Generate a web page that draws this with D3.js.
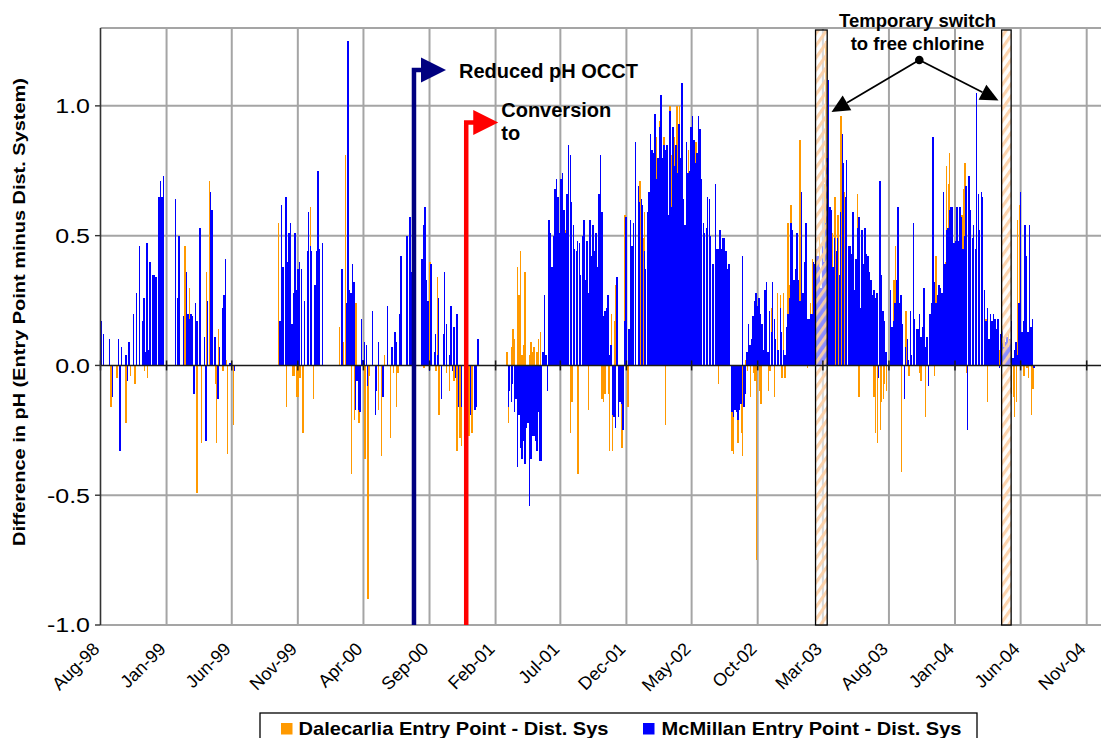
<!DOCTYPE html>
<html>
<head>
<meta charset="utf-8">
<script src="https://cdn.jsdelivr.net/npm/d3@7"></script>
<style>
  html, body { margin: 0; padding: 0; background: #fff; }
  svg { display: block; font-family: "Liberation Sans", Arial, Helvetica, sans-serif; }
</style>
</head>
<body>
<svg id="chart" width="1101" height="738"></svg>
<script>
// pH difference (entry point minus distribution system), sampled on a
// twice-weekly grid (every 3.5 days) starting 2 Aug 1998; _ = no sample.
const _ = null;

const dalecarlia = [
  _,_,_,_,_,_,_,-.16,_,_,
  _,-.05,_,_,_,_,_,-.22,-.03,_,
  -.04,_,_,-.07,_,_,_,_,_,-.02,
  _,-.05,_,_,_,_,_,_,_,_,
  _,_,_,_,_,_,_,_,_,_,
  _,_,_,_,_,_,.46,_,_,.30,
  _,_,_,_,-.49,_,.19,-.30,_,_,
  .36,_,.71,_,.31,_,-.07,-.30,.14,_,
  _,-.02,_,.02,-.34,_,_,_,-.23,_,
  _,_,_,_,_,_,_,_,_,_,
  _,_,_,_,_,_,_,_,_,_,
  _,_,_,_,_,_,_,_,.55,_,
  _,_,_,-.16,_,_,_,-.04,-.04,_,
  -.12,-.12,-.05,_,-.26,_,_,_,_,.61,
  _,-.13,_,_,_,_,_,_,_,_,
  _,_,_,_,_,_,_,_,.15,_,
  .14,.09,.81,_,_,_,-.42,_,-.21,.24,
  _,-.22,-.11,_,_,-.36,_,-.90,-.04,_,
  .03,_,_,_,-.17,_,-.35,_,.04,_,
  _,_,-.28,_,-.03,_,-.16,-.03,_,_,
  _,_,_,_,_,_,_,_,_,_,
  _,_,_,_,-.01,_,_,_,.40,_,
  _,_,-.02,.34,-.19,_,_,_,_,-.03,
  _,-.10,_,_,-.06,_,-.33,_,-.28,-.31,
  _,_,_,_,-.27,_,-.26,_,_,_,
  _,_,_,_,_,_,_,_,_,_,
  _,_,_,_,_,_,_,_,_,.05,
  -.22,_,.07,.14,.10,_,.38,.27,.44,.04,
  .08,.36,_,_,.04,.09,.05,.07,_,.05,
  .10,.13,_,_,.18,_,_,_,.45,_,
  _,_,_,.51,_,_,_,_,.52,_,
  _,-.26,-.14,_,_,_,-.42,_,_,_,
  _,_,_,-.17,_,_,_,_,_,_,
  _,_,-.13,-.14,-.11,_,-.11,-.33,.20,-.33,
  .17,.31,_,_,_,-.32,_,.58,.09,-.16,
  _,_,_,_,_,_,_,.71,_,.49,
  .59,_,_,_,.67,_,_,.86,.88,_,
  .94,.68,.68,.88,-.23,.61,_,1.0,.81,.73,
  .88,1.0,1.0,1.0,_,.71,_,.54,_,.83,
  _,_,_,.86,.86,_,_,_,_,.55,
  _,_,_,_,_,_,_,_,_,-.07,
  _,_,_,_,_,_,_,_,-.33,-.34,
  -.12,_,-.30,_,-.26,-.35,_,.02,-.02,_,
  -.12,_,-.03,-.06,-.75,_,-.10,-.15,_,_,
  _,_,-.10,-.02,.22,_,-.12,_,.28,_,
  .27,-.05,.28,-.05,_,.55,.31,.62,_,_,
  _,.47,_,.87,.45,_,_,_,-.01,_,
  .24,.41,_,_,.45,_,.50,_,_,.70,
  1.25,_,_,_,.51,_,.65,_,.58,_,
  .96,_,.67,_,_,_,_,_,_,_,
  _,.66,-.12,_,_,_,_,_,_,_,
  _,_,-.12,-.26,-.30,_,-.25,-.14,-.13,-.07,
  -.10,_,_,.04,_,.33,.46,_,.22,_,
  -.41,_,_,.21,_,-.04,.04,_,_,_,
  .14,_,-.03,-.06,_,.13,-.20,.07,_,_,
  _,.26,-.04,.42,_,_,.30,_,.44,.40,
  .77,.70,.82,_,_,_,_,.61,_,_,
  .58,.68,.78,-.03,_,.63,_,_,_,_,
  _,_,_,_,_,_,.18,-.14,_,_,
  .10,.18,_,_,_,.06,_,.08,.10,.08,
  .10,.12,_,-.11,-.12,-.20,-.14,.56,.62,_,
  _,-.04,.30,-.01,-.05,_,-.19,-.09
];

const mcmillan = [
  .17,.12,_,_,_,.10,_,-.12,_,_,
  _,.10,-.33,.07,_,_,.04,-.06,.09,_,
  _,.20,_,.28,_,.46,_,.17,.26,.05,
  .47,.06,.40,_,.35,.35,.34,_,.65,.71,
  .65,.73,_,_,_,_,_,_,_,.64,
  .26,.50,_,_,.19,_,.36,.20,.18,.20,
  .19,-.11,.24,.17,_,.53,_,_,.11,-.29,
  .25,_,.67,.60,_,.11,_,-.13,.07,_,
  .22,.27,.41,_,_,.01,_,_,-.02,_,
  _,_,_,_,_,_,_,_,_,_,
  _,_,_,_,_,_,_,_,_,_,
  _,_,_,_,_,_,_,_,.17,.62,
  .38,_,.65,.40,.51,.55,.16,.28,.51,.29,
  .37,.40,.37,_,.25,_,.44,.59,.46,.44,
  _,.31,.44,.75,.45,_,.47,_,_,_,
  _,_,_,_,_,_,_,_,_,.37,
  _,_,.24,1.25,.29,.28,.39,.32,-.17,-.06,
  -.17,-.18,.18,.02,.09,.08,-.08,_,_,.21,
  _,-.19,-.10,.09,_,_,-.12,_,_,.23,
  _,_,.07,_,.13,.09,_,.20,.42,_,
  _,_,.50,_,.57,.36,_,_,_,_,
  _,_,.41,.54,.61,.33,.25,-.02,.39,_,
  .05,.12,.04,.26,_,-.13,.12,.36,.16,_,
  .04,.23,-.02,.15,-.05,.20,-.16,_,-.16,_,
  _,_,_,_,-.19,_,_,-.17,-.16,.10,
  _,_,_,_,_,_,_,_,_,_,
  _,_,_,_,_,_,_,_,_,-.16,
  -.10,-.14,-.07,-.18,-.13,-.39,-.19,-.32,-.36,-.29,
  -.38,-.24,-.22,-.54,-.36,-.27,-.27,-.29,-.33,-.18,
  -.37,-.37,.05,.27,.04,-.10,.56,.51,.38,.50,
  .68,.72,.65,.51,.72,.74,.60,.51,.66,.85,
  .81,.63,.54,.45,.44,.48,.47,.35,.50,.56,
  .33,.48,.28,.56,.42,.54,.44,.51,.38,.66,
  .81,.59,.19,.21,.22,.27,.04,.08,-.19,-.20,
  -.24,.34,-.20,-.14,-.15,-.25,.17,.57,_,.14,
  .56,.46,.55,.86,_,.69,.63,.64,.62,.44,
  .37,.59,.67,.89,.83,.82,.97,.72,.80,.92,
  1.04,.80,.85,.83,.85,.58,.98,.61,.92,.77,
  .85,.74,.93,.80,1.09,.64,.54,.86,.74,.75,
  .92,.96,.87,.78,.82,.96,.91,.72,.55,.51,
  .53,.65,.64,.50,.39,.39,.70,.45,.45,.52,
  .45,.49,.49,.44,.37,.39,_,-.18,-.20,-.17,
  -.18,-.21,-.17,-.15,.42,-.16,-.11,.05,.16,.08,
  .10,.19,.25,.28,.23,.26,.20,.16,.06,.29,
  .32,.05,.21,.13,.32,.18,.10,.06,.06,.22,
  .13,.06,.04,.15,.20,.26,.55,.52,.33,.37,
  .51,.33,.25,.67,.28,.40,.55,.18,.18,.20,
  .20,.40,.39,.42,.42,.38,.30,.46,.40,.55,
  .80,1.10,.61,.60,.38,.49,.44,.49,.35,.59,
  .89,.78,.65,.79,.46,.46,.43,.59,.29,.41,
  .53,.57,.22,.52,.39,.53,.43,.42,.36,.33,
  .27,.29,.26,.28,-.05,.71,.35,.21,.17,.05,
  _,_,.29,.15,.17,.24,.33,.61,.24,.27,
  .16,-.13,.07,.10,.02,.21,.04,.55,.18,.14,
  .14,.20,.11,.15,.30,.07,.11,-.08,.20,.24,
  .88,.32,.24,.27,.31,.30,.28,.67,.39,.52,
  .53,.60,.61,.61,.47,.48,.61,.48,.61,.57,
  .45,.50,.69,-.25,.73,.60,.49,.54,.45,1.05,
  .66,.52,.67,.65,.29,.17,.22,.10,.20,.17,
  .20,.18,.14,.18,-.01,.12,.14,.07,.09,.11,
  .07,.10,.17,.03,.06,.09,.04,.24,.67,.13,
  .17,.54,.42,.13,.54,.15,.18,-.01
];

const seriesNames = ["Dalecarlia Entry Point - Dist. Sys", "McMillan Entry Point - Dist. Sys"];
const seriesColors = ["#ff9900", "#0000ff"];

const xTickLabels = ["Aug-98","Jan-99","Jun-99","Nov-99","Apr-00","Sep-00","Feb-01","Jul-01",
  "Dec-01","May-02","Oct-02","Mar-03","Aug-03","Jan-04","Jun-04","Nov-04"];
const yTicks = [-1.0, -0.5, 0.0, 0.5, 1.0];

// treatment changes marked with arrows
const eventDates = ["2000-07-27", "2000-11-25"];
const eventLabels = [["Reduced pH OCCT"], ["Conversion", "to"]];
const eventColors = ["#000080", "#ff0000"];

// free chlorine periods (shaded bands)
const switchStarts = ["2003-02-12", "2004-04-18"];
const switchEnds = ["2003-03-11", "2004-05-10"];

const W = 1101, H = 738;
const svg = d3.select("#chart");
const parseTick = d3.utcParse("%b-%y");
const parseDay = d3.utcParse("%Y-%m-%d");
const tickDates = xTickLabels.map(parseTick);

const x = d3.scaleUtc()
  .domain([tickDates[0], tickDates[tickDates.length - 1]])
  .range([100.5, 1086.7]);
const y = d3.scaleLinear().domain([-1, 1.3]).range([625, 28]);

const plotL = 100.5, plotR = W, plotT = y(1.3), plotB = y(-1);
const sampleStart = Date.UTC(1998, 7, 2);
const sampleDate = i => d3.utcHour.offset(new Date(sampleStart), i * 84);

// ---- grid ----
const grid = svg.append("g").attr("stroke", "#a5a5a5").attr("stroke-width", 2);
grid.selectAll("line.v").data(tickDates.slice(1)).join("line")
  .attr("x1", d => x(d)).attr("x2", d => x(d))
  .attr("y1", plotT).attr("y2", plotB);
grid.selectAll("line.h").data([-0.5, 0.5, 1.0, 1.3, -1.0]).join("line")
  .attr("x1", plotL).attr("x2", plotR)
  .attr("y1", d => y(d)).attr("y2", d => y(d));

// ---- bars ----
function drawSeries(values, color, dx) {
  const pts = values.map((v, i) => ({ v, d: sampleDate(i) })).filter(p => p.v !== null);
  svg.append("g").attr("shape-rendering", "crispEdges")
    .selectAll("rect").data(pts).join("rect")
    .attr("x", p => x(p.d) + dx)
    .attr("width", 1.4)
    .attr("y", p => y(Math.max(0, p.v)))
    .attr("height", p => Math.max(0.5, Math.abs(y(p.v) - y(0))))
    .attr("fill", color);
}
drawSeries(dalecarlia, seriesColors[0], -1.2);
drawSeries(mcmillan, seriesColors[1], 0.1);

// ---- free chlorine bands ----
const defs = svg.append("defs");
const pat = defs.append("pattern").attr("id", "stripes")
  .attr("patternUnits", "userSpaceOnUse").attr("width", 7).attr("height", 7)
  .attr("patternTransform", "rotate(35)");
pat.append("rect").attr("width", 7).attr("height", 7).attr("fill", "#ffffff").attr("fill-opacity", 0.55);
pat.append("rect").attr("width", 3.2).attr("height", 7).attr("fill", "#fdd0a6").attr("fill-opacity", 0.9);

svg.append("g").selectAll("rect").data(switchStarts.map((s, i) => [parseDay(s), parseDay(switchEnds[i])]))
  .join("rect")
  .attr("x", d => x(d[0])).attr("width", d => x(d[1]) - x(d[0]))
  .attr("y", 30).attr("height", plotB - 30)
  .attr("fill", "url(#stripes)")
  .attr("stroke", "#000").attr("stroke-width", 1.3);

// ---- axes ----
const y0 = y(0);
svg.append("line").attr("x1", plotL).attr("x2", plotR).attr("y1", y0).attr("y2", y0)
  .attr("stroke", "#1a1a1a").attr("stroke-width", 1.5);
svg.append("g").selectAll("line").data(tickDates).join("line")
  .attr("x1", d => x(d)).attr("x2", d => x(d))
  .attr("y1", y0 - 5).attr("y2", y0 + 5)
  .attr("stroke", "#1a1a1a").attr("stroke-width", 1.5);

svg.append("line").attr("x1", plotL).attr("x2", plotL).attr("y1", plotT).attr("y2", plotB)
  .attr("stroke", "#333").attr("stroke-width", 1.6);
svg.append("g").selectAll("line").data(yTicks).join("line")
  .attr("x1", 95).attr("x2", plotL).attr("y1", d => y(d)).attr("y2", d => y(d))
  .attr("stroke", "#333").attr("stroke-width", 1.4);

svg.append("g").selectAll("text").data(yTicks).join("text")
  .attr("transform", d => `translate(90,${y(d)}) scale(1.22,1)`)
  .attr("dy", "0.36em")
  .attr("text-anchor", "end").attr("font-size", 20.5).attr("fill", "#000")
  .text(d => d.toFixed(1));

svg.append("g").selectAll("text").data(tickDates).join("text")
  .attr("transform", d => `translate(${x(d) - 9},${641}) rotate(-45)`)
  .attr("dy", "0.72em")
  .attr("text-anchor", "end").attr("font-size", 18).attr("fill", "#000")
  .text(d => d3.utcFormat("%b-%y")(d));

svg.append("text")
  .attr("transform", "translate(25,312) rotate(-90)")
  .attr("text-anchor", "middle").attr("font-size", 17).attr("font-weight", "bold")
  .attr("textLength", 468).attr("lengthAdjust", "spacingAndGlyphs")
  .text("Difference in pH (Entry Point minus Dist. System)");

// ---- treatment change arrows ----
eventDates.forEach((ds, k) => {
  const ex = x(parseDay(ds));
  const ay = k === 0 ? 70 : 122.5;
  svg.append("path")
    .attr("d", `M${ex},${plotB}V${ay}H${ex + 9}`)
    .attr("fill", "none").attr("stroke", eventColors[k]).attr("stroke-width", 4.5);
  svg.append("path")
    .attr("d", `M${ex + 7},${ay - 12.5}L${ex + 32},${ay}L${ex + 7},${ay + 12.5}Z`)
    .attr("fill", eventColors[k]);
  const lines = eventLabels[k];
  lines.forEach((t, j) => {
    svg.append("text")
      .attr("x", k === 0 ? ex + 45 : ex + 35)
      .attr("y", (k === 0 ? 77.5 : 117) + j * 23)
      .attr("font-size", 20).attr("font-weight", "bold").text(t);
  });
});

// ---- free chlorine callout ----
const callout = svg.append("g");
["Temporary switch", "to free chlorine"].forEach((t, j) => {
  callout.append("text").attr("x", 917.5).attr("y", 26.5 + j * 23.5)
    .attr("text-anchor", "middle").attr("font-size", 18.5).attr("font-weight", "bold").text(t);
});
const dot = [919.3, 60];
const tips = [[831.5, 112], [998.5, 100.5]];
callout.append("circle").attr("cx", dot[0]).attr("cy", dot[1]).attr("r", 4.3).attr("fill", "#000");
tips.forEach(tp => {
  const dx = tp[0] - dot[0], dy = tp[1] - dot[1];
  const len = Math.hypot(dx, dy), ux = dx / len, uy = dy / len;
  const hl = 18, hw = 8.5;
  const bx = tp[0] - ux * hl, by = tp[1] - uy * hl;
  callout.append("line").attr("x1", dot[0]).attr("y1", dot[1]).attr("x2", bx).attr("y2", by)
    .attr("stroke", "#000").attr("stroke-width", 1.8);
  callout.append("path")
    .attr("d", `M${tp[0]},${tp[1]}L${bx - uy * hw},${by + ux * hw}L${bx + uy * hw},${by - ux * hw}Z`)
    .attr("fill", "#000");
});

// ---- legend ----
const leg = svg.append("g");
leg.append("rect").attr("x", 260).attr("y", 713).attr("width", 717).attr("height", 40)
  .attr("fill", "#fff").attr("stroke", "#000").attr("stroke-width", 1.3);
const legX = [281, 643], legTextX = [298.5, 661.5], legLen = [310, 300];
seriesNames.forEach((n, i) => {
  leg.append("rect").attr("x", legX[i]).attr("y", 723).attr("width", 11.5).attr("height", 11.5)
    .attr("fill", seriesColors[i]);
  leg.append("text").attr("x", legTextX[i]).attr("y", 735)
    .attr("font-size", 18.6).attr("font-weight", "bold")
    .attr("textLength", legLen[i]).attr("lengthAdjust", "spacingAndGlyphs").text(n);
});
</script>
</body>
</html>
